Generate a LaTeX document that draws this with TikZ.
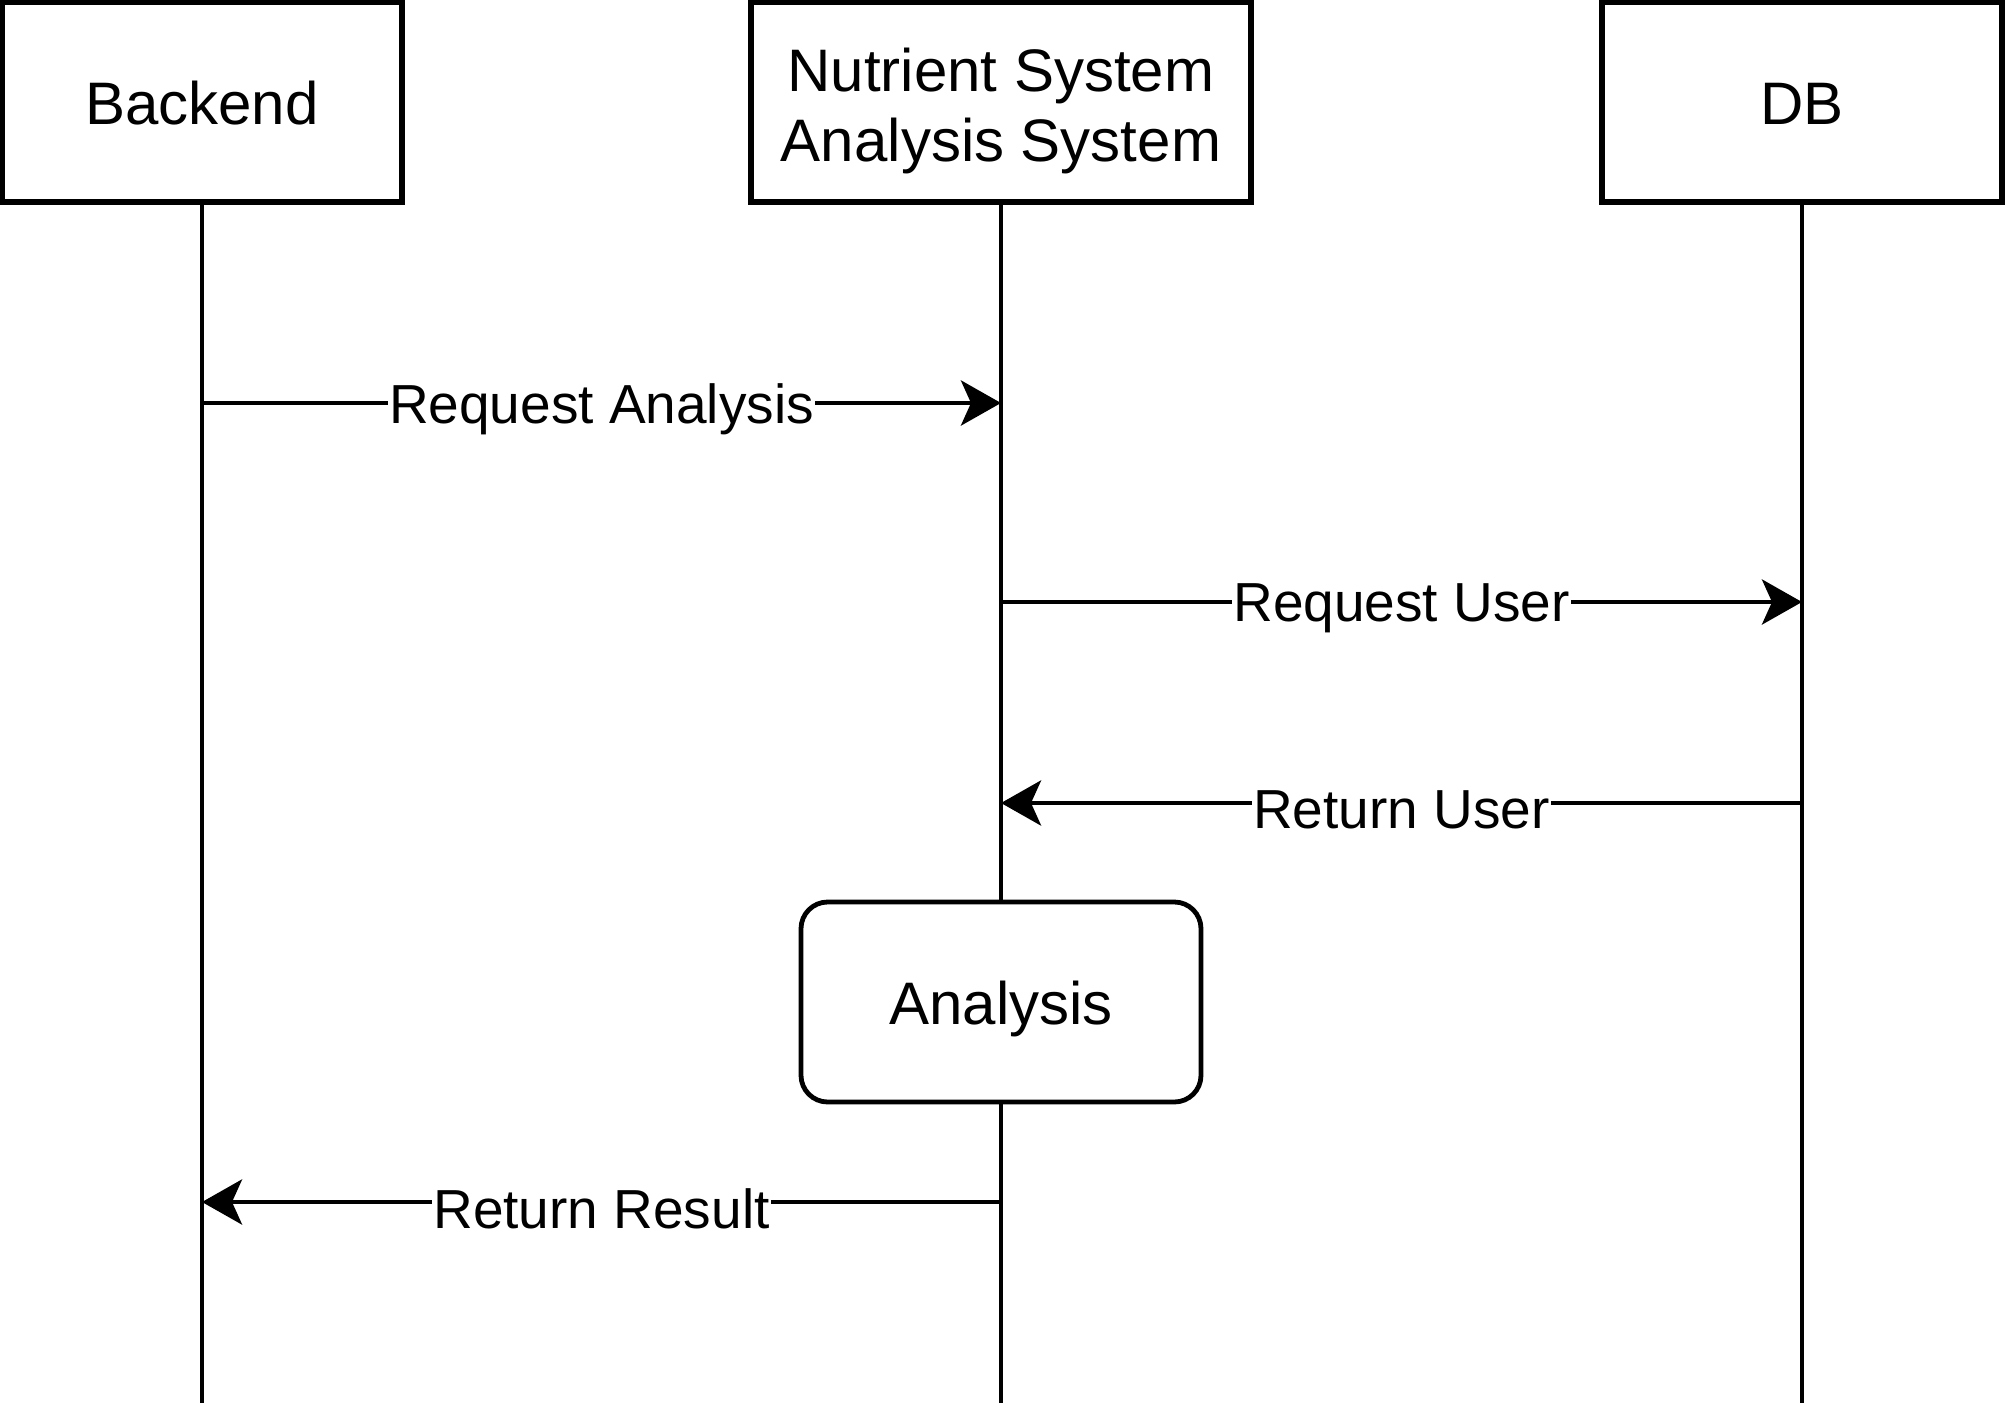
\documentclass[tikz,border=0pt]{standalone}
\usepackage{fontspec}
\setmainfont{Liberation Sans}
\usetikzlibrary{arrows.meta,positioning}

\tikzset{
  partbox/.style={draw, line width=3.8pt, minimum width=300pt, minimum height=150pt,
    align=center, text height=33pt, text depth=0pt, font=\fontsize{45}{52.5}\selectfont},
  lifeline/.style={line width=3.6pt},
  msg/.style={line width=3.6pt, -{Stealth[length=30pt, width=33.75pt, inset=7.5pt]}},
  msglabel/.style={fill=white, inner sep=1pt, yshift=-5pt, font=\fontsize{41.25}{48}\selectfont}
}

\begin{document}
\begin{tikzpicture}[x=0.75pt,y=0.75pt,yscale=-1]
  \useasboundingbox (0,0) rectangle (2005,1410);

  %Participants
  \node[partbox] (backend) at (202,102) {Backend};
  \node[partbox, minimum width=375pt, text height=89pt] (system) at (1001,102) {Nutrient System\\Analysis System};
  \node[partbox] (db) at (1802,102) {DB};

  %Activity box
  \node[partbox, rounded corners=20pt, line width=3.6pt] (analysis) at (1001,1002) {Analysis};

  %Lifeline ends
  \coordinate (backend end) at (202,1403);
  \coordinate (system end) at (1001,1403);
  \coordinate (db end) at (1802,1403);

  %Lifelines
  \draw[lifeline] (backend.south) -- (backend end);
  \draw[lifeline] (system.south) -- (analysis.north);
  \draw[lifeline] (analysis.south) -- (system end);
  \draw[lifeline] (db.south) -- (db end);

  %Message ends
  \coordinate (ra from) at (202,403);
  \coordinate (ra to) at (1001,403);
  \coordinate (ru from) at (1001,602);
  \coordinate (ru to) at (1802,602);
  \coordinate (rtu from) at (1802,803);
  \coordinate (rtu to) at (1001,803);
  \coordinate (rr from) at (1001,1202);
  \coordinate (rr to) at (202,1202);

  %Messages
  \draw[msg] (ra from) -- node[msglabel] {Request Analysis} (ra to);
  \draw[msg] (ru from) -- node[msglabel] {Request User} (ru to);
  \draw[msg] (rtu from) -- node[msglabel] {Return User} (rtu to);
  \draw[msg] (rr from) -- node[msglabel] {Return Result} (rr to);

\end{tikzpicture}
\end{document}
